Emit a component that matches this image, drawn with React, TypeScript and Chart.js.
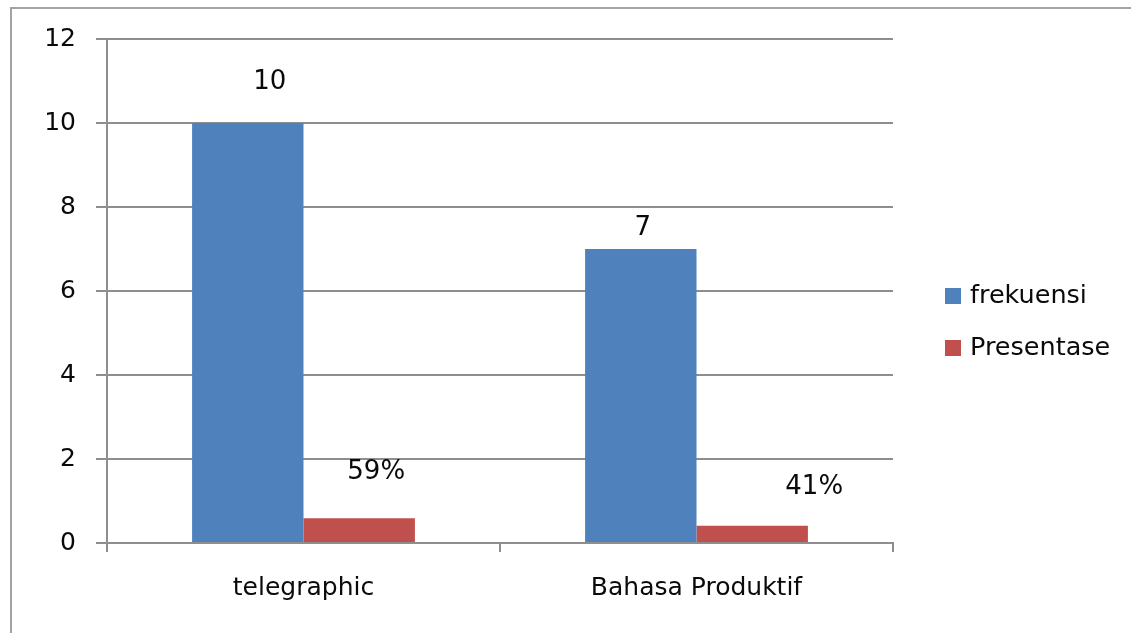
import React, { useEffect, useRef } from "react";
import { Chart, registerables } from "chart.js";

Chart.register(...registerables);

const categories = ["telegraphic", "Bahasa Produktif"];
const seriesNames = ["frekuensi", "Presentase"];
const frekuensi = [10, 7];
const presentase = [0.59, 0.41];
const presentaseLabels = ["59%", "41%"];
const yTicks = [0, 2, 4, 6, 8, 10, 12];

const FONT = "'DejaVu Sans', sans-serif";
const TEXT = "#0a0a0a";
const GRID = "#8e8e8e";

const labelPlugin = {
  id: "barLabels",
  afterDatasetsDraw(chart: any, _args: any, opts: any) {
    const ctx = chart.ctx;
    ctx.save();
    ctx.font = `${opts.size}px ${FONT}`;
    ctx.fillStyle = TEXT;
    ctx.textAlign = "center";
    ctx.textBaseline = "middle";
    chart.data.datasets.forEach((ds: any, di: number) => {
      const meta = chart.getDatasetMeta(di);
      meta.data.forEach((el: any, i: number) => {
        const off = opts.offsets[di][i];
        const text = ds.displayLabels ? ds.displayLabels[i] : String(ds.data[i]);
        ctx.fillText(text, el.x + off[0], el.y + off[1]);
      });
    });
    ctx.restore();
  },
};

const legendPlugin = {
  id: "sideLegend",
  afterDraw(chart: any, _args: any, opts: any) {
    const ctx = chart.ctx;
    ctx.save();
    ctx.font = `${opts.size}px ${FONT}`;
    ctx.textBaseline = "middle";
    ctx.textAlign = "left";
    const x0 = chart.chartArea.right + opts.dx;
    chart.data.datasets.forEach((ds: any, i: number) => {
      const y = opts.top + i * opts.gap;
      ctx.fillStyle = ds.backgroundColor;
      ctx.fillRect(x0, y - opts.box / 2, opts.box, opts.box);
      ctx.fillStyle = TEXT;
      ctx.fillText(ds.label, x0 + opts.box + 9, y);
    });
    ctx.restore();
  },
};

export default function App() {
  const ref = useRef<HTMLCanvasElement>(null);
  useEffect(() => {
    if (!ref.current) return;
    const chart = new Chart(ref.current, {
      type: "bar",
      data: {
        labels: categories,
        datasets: [
          {
            label: seriesNames[0],
            data: frekuensi,
            backgroundColor: "#4F81BD",
            categoryPercentage: 0.567,
            barPercentage: 1,
          } as any,
          {
            label: seriesNames[1],
            data: presentase,
            displayLabels: presentaseLabels,
            backgroundColor: "#C0504D",
            categoryPercentage: 0.567,
            barPercentage: 1,
          } as any,
        ],
      },
      plugins: [labelPlugin, legendPlugin],
      options: {
        animation: false,
        responsive: false,
        maintainAspectRatio: false,
        layout: { padding: { left: 0, top: 39, right: 238, bottom: 0 } },
        plugins: {
          legend: { display: false },
          tooltip: { enabled: false },
          barLabels: {
            size: 26,
            offsets: [
              [
                [22, -41],
                [2, -21],
              ],
              [
                [17, -46],
                [62, -39],
              ],
            ],
          },
          sideLegend: { size: 25.5, dx: 52, top: 296, gap: 52, box: 16 },
        } as any,
        scales: {
          x: {
            grid: {
              offset: true,
              drawOnChartArea: false,
              drawTicks: true,
              tickLength: 9,
              color: GRID,
              lineWidth: 2,
            },
            border: { color: GRID, width: 2 },
            ticks: { color: TEXT, font: { family: FONT, size: 25 }, padding: 21 },
            afterFit: (s: any) => {
              s.height = 90;
            },
          },
          y: {
            min: 0,
            max: 12,
            afterBuildTicks: (s: any) => {
              s.ticks = yTicks.map((v) => ({ value: v }));
            },
            grid: { color: GRID, lineWidth: 2, tickLength: 11, drawTicks: true },
            border: { color: GRID, width: 2 },
            ticks: { color: TEXT, font: { family: FONT, size: 25 }, padding: 20 },
            afterFit: (s: any) => {
              s.width = 107;
            },
          },
        },
      },
    });
    return () => chart.destroy();
  }, []);
  return (
    <div style={{ position: "absolute", left: 0, top: 0, width: 1131, height: 633, background: "#fff" }}>
      <div
        style={{
          position: "absolute",
          left: 10,
          top: 7,
          right: 0,
          bottom: 0,
          borderLeft: "2px solid #a3a3a3",
          borderTop: "2px solid #a3a3a3",
        }}
      />
      <canvas ref={ref} width={1131} height={633} style={{ position: "absolute", left: 0, top: 0 }} />
    </div>
  );
}
